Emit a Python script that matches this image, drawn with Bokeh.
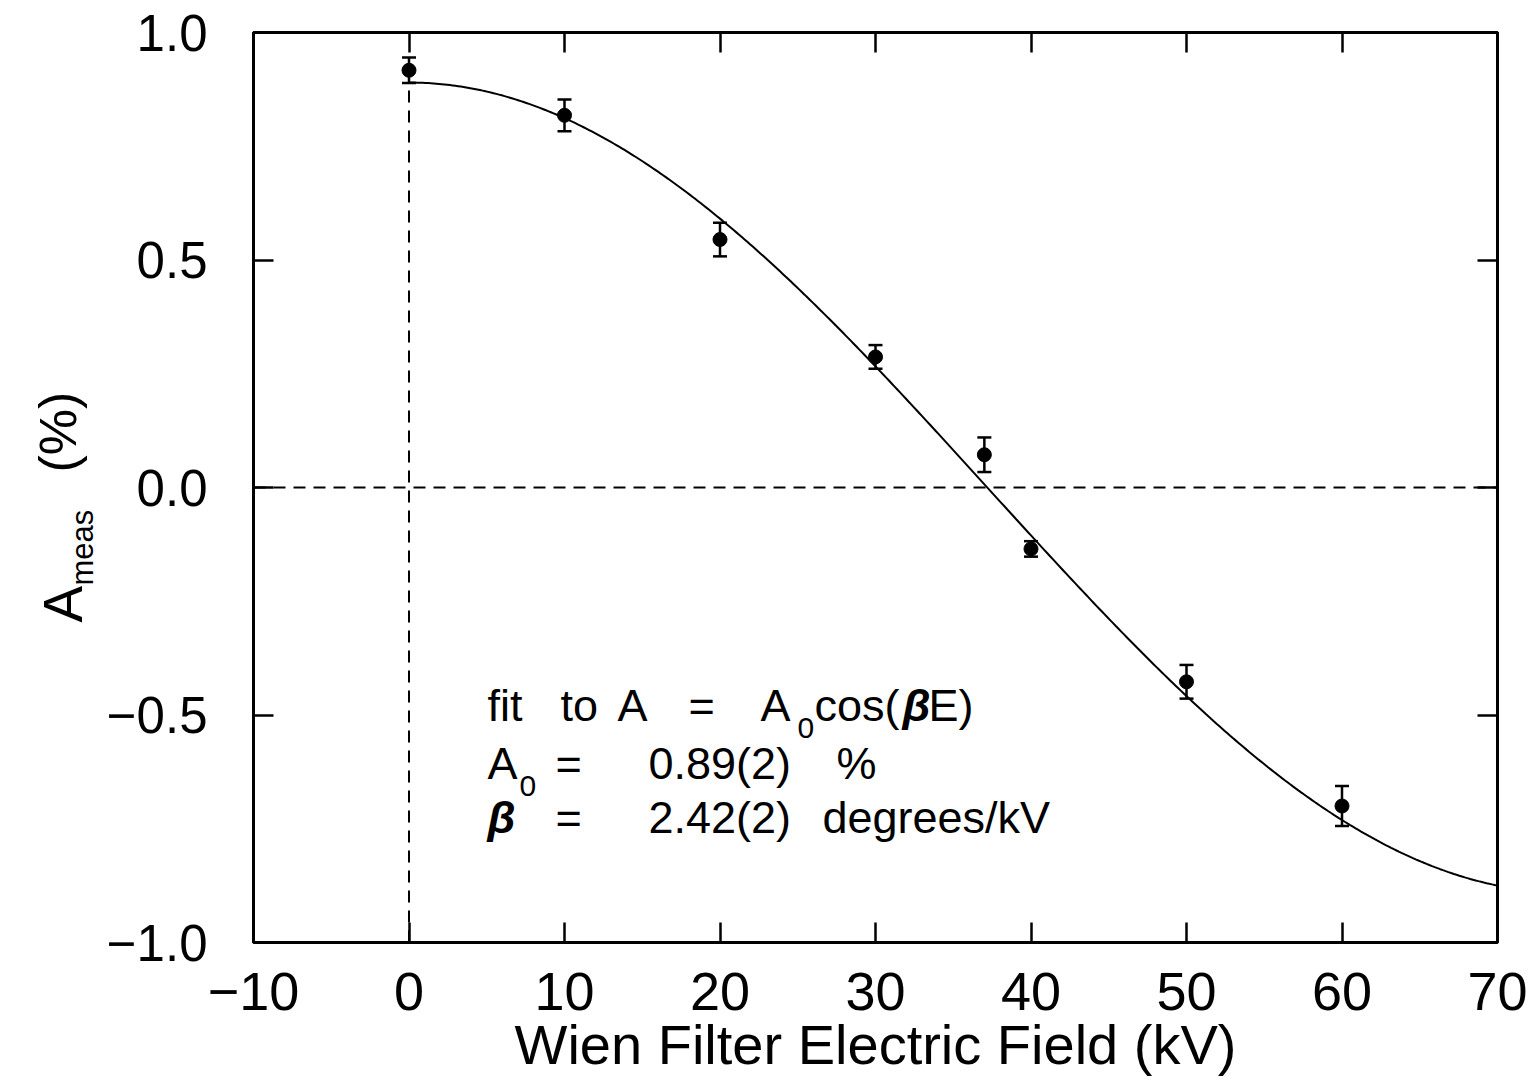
import numpy as np
from math import pi
from bokeh.plotting import figure
from bokeh.layouts import row
from bokeh.models import LinearAxis, FixedTicker, Label, Whisker, TeeHead, ColumnDataSource, Span
from bokeh.embed import file_html
from bokeh.resources import INLINE

# ---- data ----
field_kv = [0, 10, 20, 30, 37, 40, 50, 60]
asym_pct = [0.917, 0.818, 0.545, 0.287, 0.072, -0.135, -0.427, -0.700]
asym_err = [0.028, 0.035, 0.037, 0.026, 0.038, 0.017, 0.037, 0.044]

# fit parameters quoted in the chart: A = A0 cos(beta E)
A0 = 0.89
beta_deg_per_kv = 2.42
fit_e_start, fit_e_end = 0, 70

x_ticks = [-10, 0, 10, 20, 30, 40, 50, 60, 70]
x_tick_labels = ["−10", "0", "10", "20", "30", "40", "50", "60", "70"]
y_ticks = [-1.0, -0.5, 0.0, 0.5, 1.0]
y_tick_labels = ["−1.0", "−0.5", "0.0", "0.5", "1.0"]

x_title = "Wien Filter Electric Field (kV)"

# ---- layout ----
W, H = 1540, 1083
WL = 100                      # width of the strip holding the y title
L, R, T, B = 253, 43, 32, 141  # frame borders in page pixels
X0, X1, Y0, Y1 = -10, 70, -1, 1
FONT = "Liberation Sans"

p = figure(width=W - WL, height=H, x_range=(X0, X1), y_range=(Y0, Y1),
           output_backend="svg", toolbar_location=None,
           x_axis_location=None, y_axis_location=None,
           min_border_left=L - WL, min_border_right=R, min_border_top=T, min_border_bottom=B)
p.grid.visible = False
p.outline_line_color = "black"
p.outline_line_width = 3
p.background_fill_color = "white"
p.border_fill_color = "white"

fw = W - L - R
fh = H - T - B


def dx(px):
    return X0 + (px - L) / fw * (X1 - X0)


def dy(py):
    return Y1 - (py - T) / fh * (Y1 - Y0)


def make_axis(ticks, labels, size, standoff, show):
    ax = LinearAxis(ticker=FixedTicker(ticks=ticks),
                    major_tick_in=20, major_tick_out=0,
                    major_tick_line_width=2.5, major_tick_line_color="black",
                    minor_tick_line_color=None, axis_line_color=None,
                    major_label_standoff=standoff,
                    major_label_text_font=FONT,
                    major_label_text_font_size=size,
                    major_label_text_color="black")
    if show:
        ax.major_label_overrides = dict(zip(ticks, labels))
    else:
        ax.major_label_overrides = {t: "" for t in ticks}
        ax.major_label_text_font_size = "0px"
    return ax


xb = make_axis(x_ticks, x_tick_labels, "54px", 30, True)
xb.axis_label = x_title
xb.axis_label_text_font = FONT
xb.axis_label_text_font_size = "56px"
xb.axis_label_text_font_style = "normal"
xb.axis_label_text_color = "black"
xb.axis_label_standoff = 0
p.add_layout(xb, "below")
p.add_layout(make_axis(y_ticks, y_tick_labels, "51px", 46, True), "left")
p.add_layout(make_axis(x_ticks, x_tick_labels, "0px", 0, False), "above")
p.add_layout(make_axis(y_ticks, y_tick_labels, "0px", 0, False), "right")

# dashed reference lines
p.add_layout(Span(location=0, dimension="width", line_color="black",
                  line_width=2, line_dash="12 8"))
p.segment(x0=[0], y0=[Y0], x1=[0], y1=[A0], line_color="black",
          line_width=2, line_dash="12 8")

# fit curve
e_fit = np.linspace(fit_e_start, fit_e_end, 400)
a_fit = A0 * np.cos(np.radians(beta_deg_per_kv * e_fit))
p.line(e_fit, a_fit, line_color="black", line_width=2)

# data with error bars
src = ColumnDataSource(dict(
    x=field_kv, y=asym_pct,
    lo=[v - e for v, e in zip(asym_pct, asym_err)],
    hi=[v + e for v, e in zip(asym_pct, asym_err)]))
p.add_layout(Whisker(base="x", lower="lo", upper="hi", source=src,
                     line_color="black", line_width=2.5,
                     lower_head=TeeHead(size=14, line_width=2.5, line_color="black"),
                     upper_head=TeeHead(size=14, line_width=2.5, line_color="black")))
p.scatter("x", "y", source=src, size=14, color="black")


def lab(fig, text, x, y, size, angle=0, style="normal"):
    fig.add_layout(Label(x=x, y=y, text=text, angle=angle,
                         text_font=FONT, text_font_size=size,
                         text_font_style=style, text_color="black",
                         text_align="left", text_baseline="alphabetic"))


def plab(text, px, py, size, style="normal"):
    lab(p, text, dx(px), dy(py), size, style=style)


# annotation inside the frame
S = "45px"
SS = "30px"
b1, b2, b3 = 705, 763, 817
plab("fit", 487, b1, S)
plab("to", 560, b1, S)
plab("A", 617, b1, S)
plab("=", 688, b1, S)
plab("A", 760, b1, S)
plab("0", 797, b1 + 22, SS)
plab("cos(", 814, b1, S)
plab("β", 902, b1, S, style="bold italic")
plab("E)", 928, b1, S)

plab("A", 487, b2, S)
plab("0", 519, b2 + 22, SS)
plab("=", 555, b2, S)
plab("0.89(2)", 648, b2, S)
plab("%", 836, b2, S)

plab("β", 487, b3, S, style="bold italic")
plab("=", 555, b3, S)
plab("2.42(2)", 648, b3, S)
plab("degrees/kV", 822, b3, S)

# ---- y title strip: its frame is aligned with the main frame, so its
# y range is set in page pixels measured from the bottom of the page ----
yt = figure(width=WL, height=H, x_range=(0, WL), y_range=(B, H - T),
            output_backend="svg", toolbar_location=None,
            x_axis_location=None, y_axis_location=None,
            min_border_left=0, min_border_right=0, min_border_top=T, min_border_bottom=B)
yt.grid.visible = False
yt.outline_line_color = None
yt.background_fill_color = "white"
yt.border_fill_color = "white"

lab(yt, "A", 62, H - 622, "55px", angle=pi / 2)
lab(yt, "meas", 82, H - 585, "31px", angle=pi / 2)
lab(yt, "(%)", 57, H - 472, "52px", angle=pi / 2)

layout = row(yt, p, spacing=0)
open("out.html", "w").write(file_html(layout, INLINE))
